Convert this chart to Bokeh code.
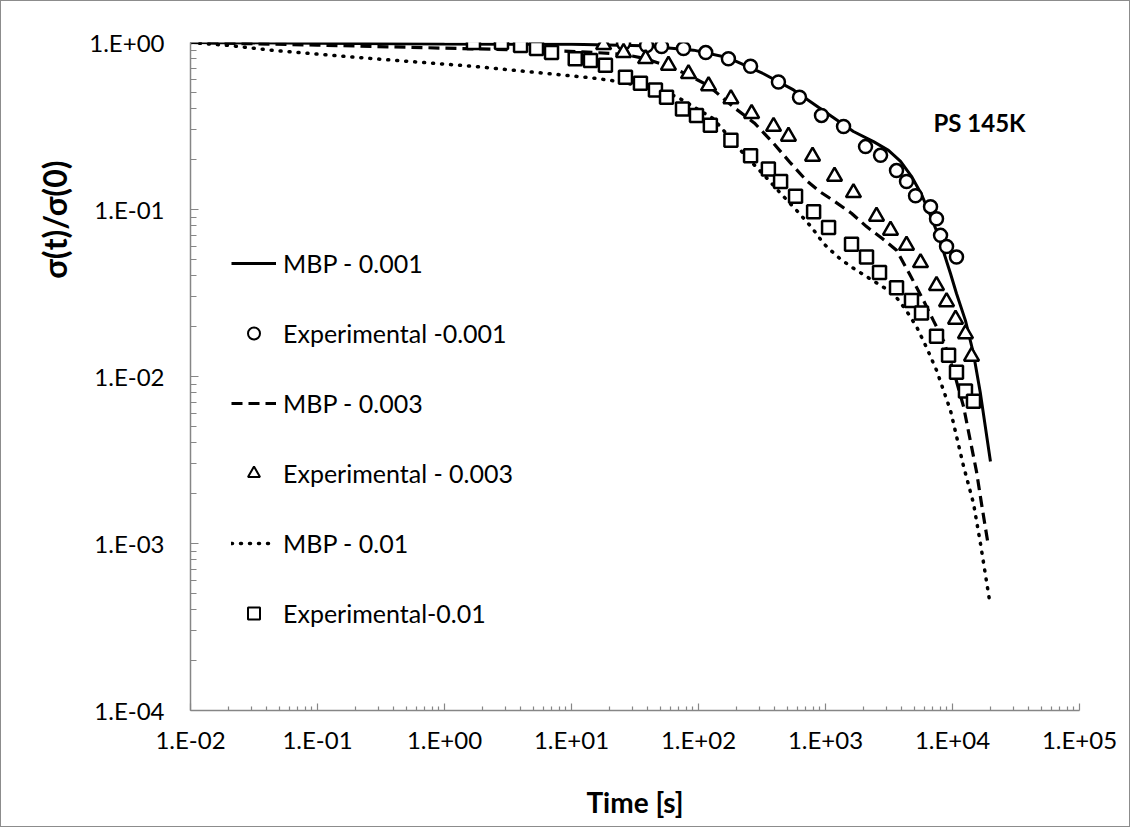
from bokeh.plotting import figure
from bokeh.models import FixedTicker, Legend, LegendItem, Label, Range1d, Title
from bokeh.embed import file_html
from bokeh.resources import INLINE

# ---------------- data ----------------
x_ticks = [1e-2, 1e-1, 1e0, 1e1, 1e2, 1e3, 1e4, 1e5]
x_tick_labels = ["1.E-02", "1.E-01", "1.E+00", "1.E+01", "1.E+02", "1.E+03", "1.E+04", "1.E+05"]
y_ticks = [1e-4, 1e-3, 1e-2, 1e-1, 1e0]
y_tick_labels = ["1.E-04", "1.E-03", "1.E-02", "1.E-01", "1.E+00"]

# MBP model curves
mbp_001_t = [0.01, 0.1, 1, 10, 36.9, 91.4, 172, 325, 560, 964, 1660, 2388, 3133, 3900, 4753, 5703,
             6714, 7620, 8490, 9640, 10750, 12650, 14630, 16600, 19900]
mbp_001_s = [1.0, 0.99, 0.98, 0.975, 0.955, 0.90, 0.81, 0.65, 0.52, 0.39, 0.293, 0.255, 0.226, 0.194,
             0.158, 0.123, 0.092, 0.0718, 0.056, 0.0414, 0.0314, 0.0216, 0.0137, 0.0079, 0.0031]

mbp_003_t = [0.01, 0.1, 1, 5, 12, 25.7, 38.3, 58, 83, 120, 189, 275, 390, 530, 708, 900, 1156, 1600,
             2104, 2800, 3624, 4600, 5916, 7080, 8490, 10200, 12220, 14120, 15450, 16900, 19200]
mbp_003_s = [1.0, 0.965, 0.925, 0.90, 0.88, 0.85, 0.80, 0.72, 0.64, 0.55, 0.41, 0.33, 0.249, 0.19,
             0.149, 0.128, 0.113, 0.095, 0.079, 0.067, 0.057, 0.041, 0.0285, 0.0216, 0.0164,
             0.0108, 0.0066, 0.0038, 0.0027, 0.00174, 0.00096]

mbp_01_t = [0.01, 0.02, 0.045, 0.276, 1.69, 14.1, 21.4, 40, 67.1, 131, 226, 330, 443, 591, 780, 964,
            1250, 1575, 2300, 3430, 4300, 5210, 6300, 7484, 9640, 12220, 14630, 16600, 19540]
mbp_01_s = [1.0, 0.96, 0.896, 0.80, 0.72, 0.615, 0.59, 0.54, 0.475, 0.35, 0.216, 0.16, 0.125, 0.099,
            0.078, 0.0626, 0.052, 0.0456, 0.038, 0.0314, 0.025, 0.0199, 0.0147, 0.0109, 0.00626,
            0.0029, 0.00174, 0.001, 0.00046]

# Experimental points
exp_001_t = [2.81, 25.7, 39.0, 51.2, 76.2, 114, 172, 257, 426, 624, 930, 1387, 2066, 2713, 3624,
             4345, 5116, 6714, 7484, 8052, 8977, 10750]
exp_001_s = [1.0, 0.99, 0.96, 0.946, 0.92, 0.87, 0.80, 0.72, 0.58, 0.47, 0.366, 0.314, 0.238, 0.211,
             0.171, 0.147, 0.121, 0.104, 0.088, 0.070, 0.060, 0.052]

exp_003_t = [17.9, 25.7, 38.3, 58.0, 83.4, 120, 180, 262, 390, 511, 791, 1178, 1660, 2522, 3251,
             4345, 5600, 7484, 8977, 10570, 12650, 14120]
exp_003_s = [0.97, 0.87, 0.80, 0.73, 0.65, 0.55, 0.46, 0.375, 0.314, 0.274, 0.208, 0.158, 0.126,
             0.091, 0.075, 0.061, 0.048, 0.035, 0.028, 0.022, 0.018, 0.0132]

exp_01_t = [1.69, 2.81, 3.97, 5.30, 6.96, 10.7, 14.1, 18.5, 26.6, 34.9, 45.8, 56.0, 74.8, 96.4, 124,
            180, 257, 355, 443, 581, 806, 1057, 1603, 2104, 2663, 3624, 4753, 5703, 7484, 9311,
            10750, 12650, 14630]
exp_01_s = [1.0, 1.0, 0.96, 0.92, 0.87, 0.80, 0.78, 0.73, 0.62, 0.57, 0.52, 0.47, 0.40, 0.366, 0.32,
            0.26, 0.21, 0.175, 0.147, 0.120, 0.097, 0.078, 0.062, 0.052, 0.042, 0.034, 0.0285,
            0.024, 0.0174, 0.0134, 0.0106, 0.0082, 0.0071]

legend_labels = ["MBP - 0.001", "Experimental -0.001", "MBP - 0.003",
                 "Experimental - 0.003", "MBP - 0.01", "Experimental-0.01"]

FONT = "Lato"
AXIS_GRAY = "#868686"

p = figure(x_axis_type="log", y_axis_type="log",
           x_range=Range1d(1e-2, 1e5), y_range=Range1d(1e-4, 1e0),
           frame_width=889, frame_height=668,
           min_border_left=189, min_border_right=50, min_border_top=41, min_border_bottom=116,
           output_backend="svg", toolbar_location=None)
p.styles = {"border": "1px solid #8c8c8c"}
p.outline_line_color = None
p.xgrid.visible = False
p.ygrid.visible = False
p.background_fill_color = "white"
p.border_fill_color = "white"

minor_x = [m * 10.0 ** e for e in range(-2, 5) for m in range(2, 10)]
minor_y = [m * 10.0 ** e for e in range(-4, 0) for m in range(2, 10)]
p.xaxis.ticker = FixedTicker(ticks=x_ticks, minor_ticks=minor_x)
p.yaxis.ticker = FixedTicker(ticks=y_ticks, minor_ticks=minor_y)
p.xaxis.major_label_overrides = {t: l for t, l in zip(x_ticks, x_tick_labels)}
p.yaxis.major_label_overrides = {t: l for t, l in zip(y_ticks, y_tick_labels)}

for ax in (p.xaxis[0], p.yaxis[0]):
    ax.axis_line_color = AXIS_GRAY
    ax.axis_line_width = 1.5
    ax.major_tick_line_color = AXIS_GRAY
    ax.minor_tick_line_color = AXIS_GRAY
    ax.major_tick_line_width = 1.2
    ax.minor_tick_line_width = 1.2
    ax.major_tick_out = 0
    ax.minor_tick_out = 0
    ax.major_label_text_font = FONT
    ax.major_label_text_font_size = "24px"
    ax.major_label_text_color = "black"

p.xaxis.major_tick_in = 7
p.xaxis.minor_tick_in = 4
p.yaxis.major_tick_in = 8
p.yaxis.minor_tick_in = 6
p.xaxis.major_label_standoff = 14
p.yaxis.major_label_standoff = 26

p.xaxis.axis_label = "Time [s]"
p.xaxis.axis_label_text_font = FONT
p.xaxis.axis_label_text_font_style = "bold"
p.xaxis.axis_label_text_font_size = "28px"
p.xaxis.axis_label_text_color = "black"
p.xaxis.axis_label_standoff = 28

# model curves
r_l1 = p.line(mbp_001_t, mbp_001_s, line_color="black", line_width=3)
r_l2 = p.line(mbp_003_t, mbp_003_s, line_color="black", line_width=3.2, line_dash="11 6")
r_l3 = p.line(mbp_01_t, mbp_01_s, line_color="black", line_width=3.5, line_dash="1 8",
              line_cap="round")

# experimental markers
mk = dict(line_color="black", line_width=2.5, fill_color="white")
p.scatter(exp_001_t, exp_001_s, marker="circle", size=13, **mk)
p.scatter(exp_003_t, exp_003_s, marker="triangle", size=15, **mk)
p.scatter(exp_01_t, exp_01_s, marker="square", size=13, **mk)

# small legend-only markers (no visible points)
nan = float("nan")
lk = dict(line_color="black", line_width=2, fill_color="white")
d1 = p.scatter([nan], [nan], marker="circle", size=8, **lk)
d2 = p.scatter([nan], [nan], marker="triangle", size=9, **lk)
d3 = p.scatter([nan], [nan], marker="square", size=9, **lk)

legend = Legend(items=[LegendItem(label=legend_labels[0], renderers=[r_l1]),
                       LegendItem(label=legend_labels[1], renderers=[d1]),
                       LegendItem(label=legend_labels[2], renderers=[r_l2]),
                       LegendItem(label=legend_labels[3], renderers=[d2]),
                       LegendItem(label=legend_labels[4], renderers=[r_l3]),
                       LegendItem(label=legend_labels[5], renderers=[d3])],
                location=(41, 82), orientation="vertical",
                border_line_color=None, background_fill_alpha=0,
                padding=0, margin=0, spacing=40,
                glyph_width=45, glyph_height=30, label_height=30, label_standoff=7,
                label_text_font=FONT, label_text_font_size="25px",
                label_text_color="black", label_text_baseline="middle")
p.add_layout(legend)

p.add_layout(Label(x=7080, y=0.332, text="PS 145K", text_font=FONT, text_font_style="bold",
                   text_font_size="24px", text_baseline="middle", text_align="left",
                   text_color="black"))

# y-axis title, placed in the left panel, upper part
p.add_layout(Title(text="σ(t)/σ(0)", align="right", offset=118, standoff=26, text_font=FONT,
                   text_font_style="bold", text_font_size="32px", text_color="black"), "left")

open("out.html", "w").write(file_html(p, INLINE))
